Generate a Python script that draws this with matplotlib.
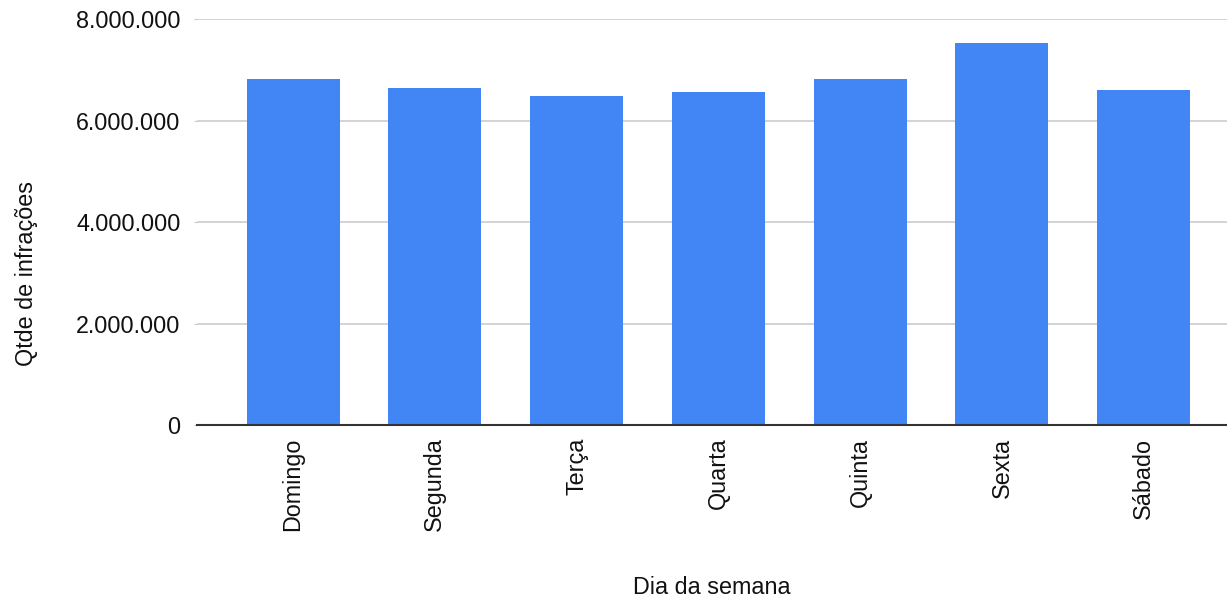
import numpy as np
import matplotlib
matplotlib.use("Agg")
import matplotlib.pyplot as plt
from matplotlib.ticker import FuncFormatter

# infractions per weekday
dias = ["Domingo", "Segunda", "Terça", "Quarta", "Quinta", "Sexta", "Sábado"]
qtde = [6828000, 6638000, 6481000, 6560000, 6828000, 7531000, 6599000]
yticks = [0, 2000000, 4000000, 6000000, 8000000]

plt.rcParams["font.family"] = ["Liberation Sans", "DejaVu Sans"]

fig = plt.figure(figsize=(12.27, 6.02), dpi=100)
ax = fig.add_axes([0.1606, 0.294, 0.8394, 0.674])

x = np.arange(len(dias))
ax.bar(x, qtde, width=0.656, color="#4285F4", zorder=3)

ax.set_ylim(0, 8000000)
ax.set_xlim(-0.677, 6.587)
ax.set_yticks(yticks)
ax.yaxis.set_major_formatter(FuncFormatter(lambda v, p: "{:,}".format(int(v)).replace(",", ".")))
ax.set_xticks(x)
ax.set_xticklabels(dias, rotation=90, va="top", ha="center")

ax.grid(axis="y", color="#cccccc", linewidth=1.2, zorder=0)
for s in ["top", "right", "left"]:
	ax.spines[s].set_visible(False)
ax.spines["bottom"].set_color("#333333")
ax.spines["bottom"].set_linewidth(1.5)
ax.spines["bottom"].set_zorder(4)

ax.tick_params(axis="y", length=2, color="#cccccc", pad=10, labelsize=16.8, labelcolor="#111111")
ax.tick_params(axis="x", length=0, pad=9, labelsize=16.8, labelcolor="#111111")

fig.text(0.5804, 1 - 588 / 602, "Dia da semana", ha="center", va="center", fontsize=16.8, color="#111111")
fig.text(27 / 1227, 1 - 274 / 602, "Qtde de infrações", ha="center", va="center",
	rotation=90, fontsize=16.8, color="#111111")

fig.savefig("out.png", dpi=100)
